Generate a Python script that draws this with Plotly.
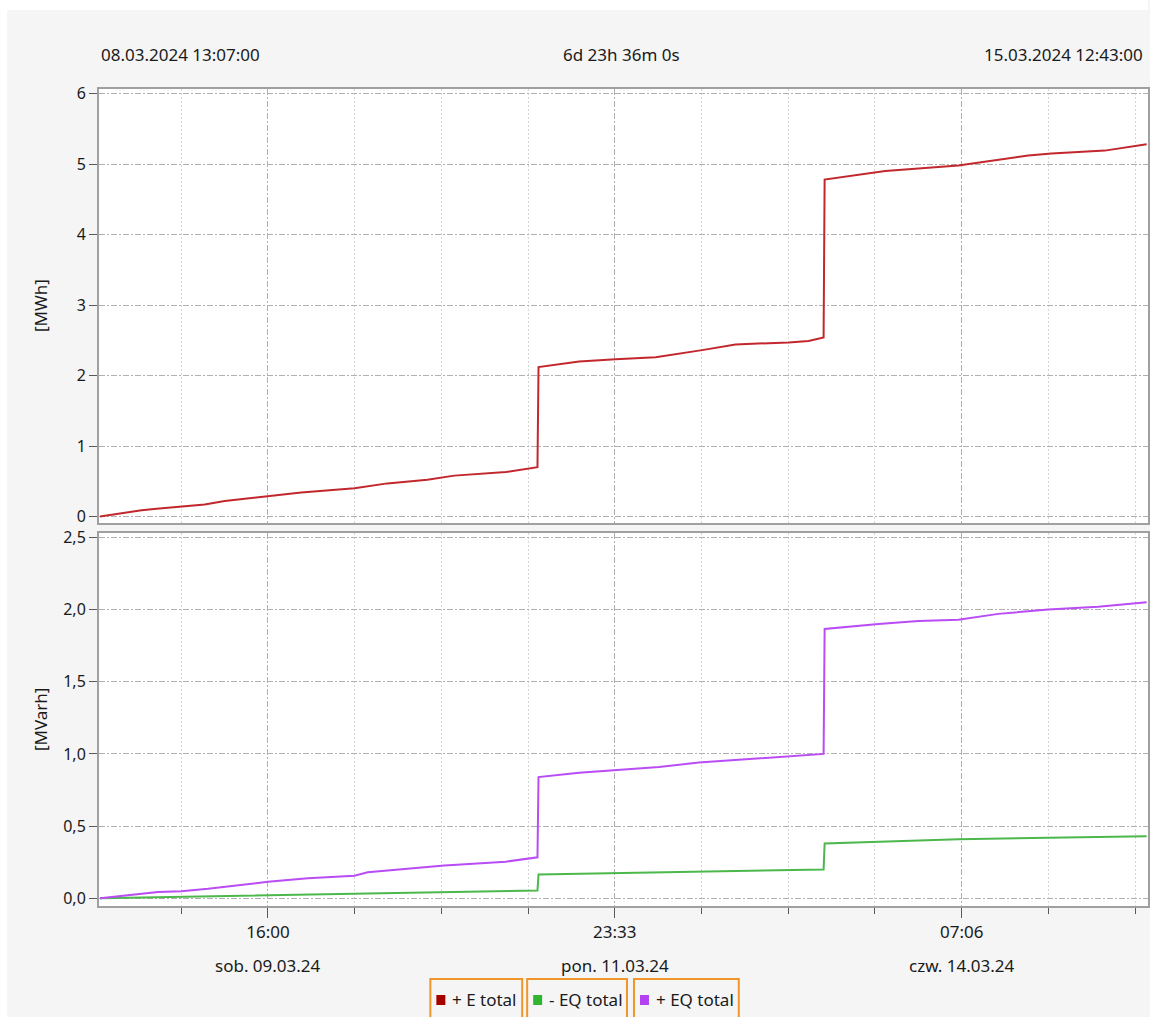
import plotly.graph_objects as go

# ---- data -----------------------------------------------------------------
# + E total [MWh]
e_time = ["2024-03-08 13:07", "2024-03-08 19:46", "2024-03-08 22:10", "2024-03-09 05:53",
          "2024-03-09 09:05", "2024-03-09 16:00", "2024-03-09 21:20", "2024-03-10 05:52",
          "2024-03-10 11:08", "2024-03-10 17:32", "2024-03-10 21:51", "2024-03-11 06:06",
          "2024-03-11 11:10", "2024-03-11 11:20", "2024-03-11 17:50", "2024-03-11 23:41",
          "2024-03-12 06:05", "2024-03-12 13:32", "2024-03-12 18:52", "2024-03-13 03:24",
          "2024-03-13 06:35", "2024-03-13 08:59", "2024-03-13 09:09", "2024-03-13 18:51",
          "2024-03-14 00:10", "2024-03-14 06:34", "2024-03-14 17:45", "2024-03-14 21:29",
          "2024-03-15 06:01", "2024-03-15 12:43"]
e_total = [0.00, 0.09, 0.11, 0.17, 0.22, 0.29, 0.34, 0.40, 0.47, 0.52, 0.58, 0.63, 0.70,
           2.12, 2.20, 2.23, 2.26, 2.36, 2.44, 2.47, 2.49, 2.54,
           4.78, 4.90, 4.94, 4.98, 5.12, 5.15, 5.19, 5.28]

# + EQ total [MVarh]
eqp_time = ["2024-03-08 13:07", "2024-03-08 22:25", "2024-03-09 02:09", "2024-03-09 06:25",
            "2024-03-09 16:00", "2024-03-09 22:24", "2024-03-10 05:52", "2024-03-10 07:59",
            "2024-03-10 20:15", "2024-03-11 06:06", "2024-03-11 11:10", "2024-03-11 11:20",
            "2024-03-11 17:50", "2024-03-12 00:13", "2024-03-12 06:37", "2024-03-12 13:00",
            "2024-03-12 19:24", "2024-03-13 03:24", "2024-03-13 08:59", "2024-03-13 09:09",
            "2024-03-13 17:47", "2024-03-14 00:10", "2024-03-14 06:34", "2024-03-14 12:58",
            "2024-03-14 20:57", "2024-03-15 04:57", "2024-03-15 12:43"]
eq_plus = [0.000, 0.044, 0.050, 0.066, 0.115, 0.140, 0.157, 0.180, 0.228, 0.254, 0.284,
           0.840, 0.870, 0.890, 0.910, 0.940, 0.960, 0.980, 1.000,
           1.865, 1.900, 1.920, 1.930, 1.970, 2.000, 2.020, 2.050]

# - EQ total [MVarh]
eqm_time = ["2024-03-08 13:07", "2024-03-09 16:00", "2024-03-10 05:52", "2024-03-10 20:15",
            "2024-03-11 11:10", "2024-03-11 11:20", "2024-03-12 00:13", "2024-03-12 13:00",
            "2024-03-12 22:36", "2024-03-13 08:59", "2024-03-13 09:09", "2024-03-13 20:59",
            "2024-03-14 06:34", "2024-03-14 20:57", "2024-03-15 12:43"]
eq_minus = [0.000, 0.020, 0.032, 0.044, 0.055, 0.165, 0.175, 0.180, 0.190, 0.200,
            0.380, 0.395, 0.410, 0.420, 0.430]

# axis labelling
major_ticks = ["2024-03-09 16:00", "2024-03-11 23:33", "2024-03-14 07:06"]
time_labels = ["16:00", "23:33", "07:06"]
date_labels = ["sob. 09.03.24", "pon. 11.03.24", "czw. 14.03.24"]
range_start, range_end = "2024-03-08 12:57", "2024-03-15 12:56"
header_left, header_mid, header_right = "08.03.2024 13:07:00", "6d 23h 36m 0s", "15.03.2024 12:43:00"

series_names = ["+ E total", "- EQ total", "+ EQ total"]
line_colors = ["#c2272d", "#4cb84c", "#b94cf4"]
swatch_colors = ["#a30000", "#2fb52f", "#b540f0"]

# ---- geometry helpers (pixels -> paper) -----------------------------------
W, H = 1150, 1017
ML, MR, MT, MB = 99, 0, 89, 111
PW, PH = W - ML - MR, H - MT - MB


def px(x):
    return (x - ML) / PW


def py(y):
    return (H - MB - y) / PH


FONT = "Noto Sans"
TXT = "#1a1a1a"
GRID = "#b0b0b0"
MINOR_GRID = "#d6d6d6"
FRAME = "#a0a0a0"
DASHDOT = "6px,2px,2px,2px"

fig = go.Figure()
fig.add_trace(go.Scatter(x=e_time, y=e_total, name=series_names[0], mode="lines",
                         line=dict(color=line_colors[0], width=2), xaxis="x", yaxis="y"))
fig.add_trace(go.Scatter(x=eqm_time, y=eq_minus, name=series_names[1], mode="lines",
                         line=dict(color=line_colors[1], width=2), xaxis="x2", yaxis="y2"))
fig.add_trace(go.Scatter(x=eqp_time, y=eq_plus, name=series_names[2], mode="lines",
                         line=dict(color=line_colors[2], width=2), xaxis="x2", yaxis="y2"))

minor_common = dict(tick0=major_ticks[0], dtick=49995000, showgrid=True,
                    gridcolor=MINOR_GRID, griddash="2px,2px", gridwidth=1)

xcommon = dict(type="date", range=[range_start, range_end], tickvals=major_ticks,
               showgrid=True, gridcolor=GRID, griddash=DASHDOT, gridwidth=1,
               showline=True, mirror=True, linecolor=FRAME, linewidth=2, zeroline=False)

fig.update_layout(
    width=W, height=H,
    margin=dict(l=ML, r=MR, t=MT, b=MB),
    paper_bgcolor="#f5f5f5", plot_bgcolor="#ffffff",
    separators=", ",
    showlegend=False,
    font=dict(family=FONT, size=17, color=TXT),
    xaxis=dict(**xcommon, anchor="y", domain=[0, 1], showticklabels=False, ticks="",
               matches="x2", minor=dict(**minor_common, ticks="")),
    xaxis2=dict(**xcommon, anchor="y2", domain=[0, 1], ticktext=time_labels,
                ticks="outside", ticklen=10, tickwidth=1, tickcolor="#5a5a5a",
                tickfont=dict(family=FONT, size=17, color=TXT),
                minor=dict(**minor_common, ticks="outside", ticklen=6, tickwidth=1,
                           tickcolor="#5a5a5a")),
    yaxis=dict(domain=[py(523), 1], range=[-0.092, 6.064], tickvals=[0, 1, 2, 3, 4, 5, 6],
               tickformat="d", showgrid=True, gridcolor=GRID, griddash=DASHDOT,
               showline=True, mirror=True, linecolor=FRAME, linewidth=2, zeroline=False,
               ticks="outside", ticklen=8, tickcolor="#5a5a5a",
               tickfont=dict(family=FONT, size=16, color=TXT)),
    yaxis2=dict(domain=[0, py(533)], range=[-0.053, 2.53], tickvals=[0, 0.5, 1, 1.5, 2, 2.5],
                tickformat=".1f", showgrid=True, gridcolor=GRID, griddash=DASHDOT,
                showline=True, mirror=True, linecolor=FRAME, linewidth=2, zeroline=False,
                ticks="outside", ticklen=8, tickcolor="#5a5a5a",
                tickfont=dict(family=FONT, size=16, color=TXT)),
)

annotations = []
# header row: period start, duration, period end
annotations.append(dict(text=header_left, xref="paper", yref="paper", x=px(99), y=py(55),
                        xanchor="left", yanchor="middle", showarrow=False))
annotations.append(dict(text=header_mid, xref="paper", yref="paper", x=px(622), y=py(55),
                        xanchor="center", yanchor="middle", showarrow=False))
annotations.append(dict(text=header_right, xref="paper", yref="paper", x=px(1147), y=py(55),
                        xanchor="right", yanchor="middle", showarrow=False))
# unit labels
annotations.append(dict(text="[MWh]", xref="paper", yref="paper", x=px(40), y=py(306),
                        textangle=-90, xanchor="center", yanchor="middle", showarrow=False))
annotations.append(dict(text="[MVarh]", xref="paper", yref="paper", x=px(40), y=py(719),
                        textangle=-90, xanchor="center", yanchor="middle", showarrow=False))
# second row of the time axis: weekday and date
for t, d in zip(major_ticks, date_labels):
    annotations.append(dict(text=d, xref="x2", yref="paper", x=t, y=py(965),
                            xanchor="center", yanchor="middle", showarrow=False))

# legend boxes
shapes = []
boxes = [(431, 523), (528, 628), (635, 740)]
ORANGE = "#f0952a"
for (x0, x1), name, sw in zip(boxes, series_names, swatch_colors):
    shapes.append(dict(type="rect", xref="paper", yref="paper", x0=px(x0), x1=px(x1),
                       y0=py(979), y1=py(1030), line=dict(color=ORANGE, width=2),
                       fillcolor="rgba(0,0,0,0)"))
    shapes.append(dict(type="rect", xref="paper", yref="paper", x0=px(x0 + 6), x1=px(x0 + 15),
                       y0=py(995), y1=py(1005), line=dict(width=0), fillcolor=sw))
    annotations.append(dict(text=name, xref="paper", yref="paper", x=px(x0 + 20), y=py(1000),
                            xanchor="left", yanchor="middle", showarrow=False,
                            font=dict(family=FONT, size=17, color=TXT)))

# thin white window edge on the top and left
shapes.append(dict(type="rect", xref="paper", yref="paper", x0=px(0), x1=px(W),
                   y0=py(10), y1=py(0), line=dict(width=0), fillcolor="#ffffff", layer="below"))
shapes.append(dict(type="rect", xref="paper", yref="paper", x0=px(0), x1=px(7),
                   y0=py(H), y1=py(0), line=dict(width=0), fillcolor="#ffffff", layer="below"))

fig.update_layout(annotations=annotations, shapes=shapes)

fig.write_html("out.html")
